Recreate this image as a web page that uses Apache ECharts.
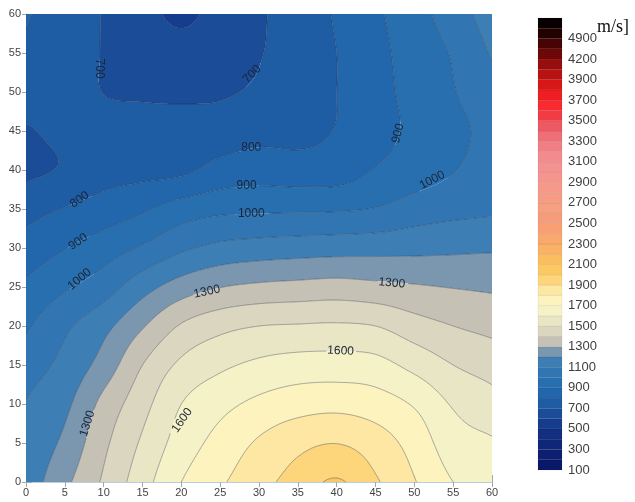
<!DOCTYPE html>
<html>
<head>
<meta charset="utf-8">
<script src="https://cdn.jsdelivr.net/npm/echarts@6/dist/echarts.min.js"></script>
<style>
  html, body { margin: 0; padding: 0; background: #ffffff; }
  #chart { width: 635px; height: 502px; }
</style>
</head>
<body>
<div id="chart"></div>
<script>
// Survey grid (m)
const xPositions = [0, 5, 10, 15, 20, 25, 30, 35, 40, 45, 50, 55, 60];
const yPositions = [0, 5, 10, 15, 20, 25, 30, 35, 40, 45, 50, 55, 60];

// Shear-wave velocity [m/s]; one row per y position (y = 0 first), one column per x position
const velocity = [
  [1140, 1276, 1414, 1559, 1700, 1786, 1866, 1942, 2012, 1913, 1806, 1700, 1640],
  [1125, 1222, 1378, 1515, 1645, 1735, 1813, 1872, 1898, 1849, 1761, 1645, 1610],
  [1105, 1177, 1330, 1465, 1600, 1670, 1723, 1758, 1770, 1747, 1690, 1590, 1538],
  [1052, 1129, 1240, 1400, 1520, 1580, 1620, 1641, 1644, 1634, 1570, 1500, 1459],
  [ 986, 1081, 1170, 1290, 1410, 1470, 1500, 1508, 1513, 1500, 1442, 1400, 1372],
  [ 918,  987, 1052, 1160, 1246, 1297, 1320, 1331, 1340, 1326, 1310, 1296, 1285],
  [ 840,  896,  951, 1012, 1082, 1125, 1143, 1153, 1160, 1165, 1172, 1180, 1188],
  [ 765,  805,  843,  886,  945,  976,  983,  986,  989, 1005, 1045, 1070, 1085],
  [ 680,  710,  760,  770,  780,  833,  852,  843,  850,  905,  949,  995, 1050],
  [ 690,  725,  740,  735,  739,  747,  770,  775,  805,  864,  921,  975, 1030],
  [ 760,  750,  698,  690,  685,  690,  715,  760,  800,  867,  931,  995, 1060],
  [ 790,  765,  695,  670,  660,  670,  695,  747,  800,  870,  943, 1010, 1110],
  [ 805,  770,  695,  660,  560,  665,  690,  745,  810,  883,  961, 1052, 1150]
];

// Contour line levels
const lineLevels = [600, 700, 800, 900, 1000, 1100, 1200, 1300, 1400, 1500, 1600, 1700, 1800, 1900, 2000];

// Colour scale: band boundaries and one colour per band
const scaleLevels = [
  100, 200, 300, 400, 500, 600, 700, 800, 900, 1000,
  1100, 1200, 1300, 1400, 1500, 1600, 1700, 1800, 1900, 2000,
  2100, 2200, 2300, 2400, 2500, 2600, 2700, 2800, 2900, 3000,
  3100, 3200, 3300, 3400, 3500, 3600, 3700, 3800, 3900, 4000,
  4200, 4500, 4900, 5200, 5500
];
const scaleColors = [
  '#0a1869', '#0d1f71', '#102679', '#132f81', '#163d8d', '#1a4c97', '#1e5ca4', '#2266ab',
  '#286faf', '#3176b3', '#3d7fb5', '#7b97af', '#c5c1b4', '#dad6c0', '#e9e6c5', '#f6f2c8',
  '#fcf3bf', '#fde7a2', '#fdd67b', '#fcc862', '#fbbd5e', '#fab266', '#f9a86e', '#f8a074',
  '#f79c7a', '#f7a080', '#f69c86', '#f6998a', '#f5968e', '#f49292', '#f38a8e', '#f17e84',
  '#f06e76', '#ee5a62', '#f23c44', '#f92a30', '#ee1e22', '#d81818', '#b81212', '#980d0d',
  '#6e0808', '#480404', '#220101', '#080000'
];
const scaleTicks = [100, 300, 500, 700, 900, 1100, 1300, 1500, 1700, 1900, 2100, 2300, 2500,
  2700, 2900, 3100, 3300, 3500, 3700, 3900, 4200, 4900];

// In-line contour labels: x, y, level, angle (degrees, counter-clockwise)
const lineLabels = [
  [9.5, 53.0, 700, -90],
  [29.1, 52.3, 700, 45],
  [29.0, 42.8, 800, 0],
  [47.9, 44.7, 900, 75],
  [6.9, 36.2, 800, 35],
  [6.7, 30.8, 900, 35],
  [6.9, 26.0, 1000, 40],
  [28.4, 38.0, 900, 0],
  [29.0, 34.4, 1000, 0],
  [52.3, 38.7, 1000, 28],
  [23.3, 24.4, 1300, 12],
  [47.1, 25.5, 1300, -5],
  [40.5, 16.8, 1600, -3],
  [7.9, 7.5, 1300, 72],
  [20.1, 7.9, 1600, 55]
];

const FONT = '"Liberation Sans", Arial, sans-serif';
const LABEL_FONT_SIZE = 12;

// ---- contouring of the gridded field (bicubic surface split into triangles) ----
const SUB = 8;
const nx = xPositions.length, ny = yPositions.length;

// grid value with linear extension one node beyond the edges
function node(i, j) {
  if (i < 0) return 2 * node(0, j) - node(1, j);
  if (i > nx - 1) return 2 * node(nx - 1, j) - node(nx - 2, j);
  if (j < 0) return 2 * node(i, 0) - node(i, 1);
  if (j > ny - 1) return 2 * node(i, ny - 1) - node(i, ny - 2);
  return velocity[j][i];
}
function cubic(p0, p1, p2, p3, t) {
  return p1 + 0.5 * t * (p2 - p0 + t * (2 * p0 - 5 * p1 + 4 * p2 - p3 + t * (3 * (p1 - p2) + p3 - p0)));
}
function surface(i, j, a, b) {
  const rows = [];
  for (let m = -1; m <= 2; m++) {
    rows.push(cubic(node(i - 1, j + m), node(i, j + m), node(i + 1, j + m), node(i + 2, j + m), a));
  }
  return cubic(rows[0], rows[1], rows[2], rows[3], b);
}

function buildTriangles() {
  const tris = [];
  for (let j = 0; j < ny - 1; j++) {
    for (let i = 0; i < nx - 1; i++) {
      const x0 = xPositions[i], x1 = xPositions[i + 1];
      const y0 = yPositions[j], y1 = yPositions[j + 1];
      const pts = [];
      for (let q = 0; q <= SUB; q++) {
        const row = [];
        for (let p = 0; p <= SUB; p++) {
          const a = p / SUB, b = q / SUB;
          row.push([x0 + (x1 - x0) * a, y0 + (y1 - y0) * b, surface(i, j, a, b)]);
        }
        pts.push(row);
      }
      for (let q = 0; q < SUB; q++) {
        for (let p = 0; p < SUB; p++) {
          const A = pts[q][p], B = pts[q][p + 1], C = pts[q + 1][p + 1], D = pts[q + 1][p];
          tris.push([A, B, C], [A, C, D]);
        }
      }
    }
  }
  return tris;
}

function clipPoly(poly, t, keepAbove) {
  const out = [];
  for (let i = 0; i < poly.length; i++) {
    const a = poly[i], b = poly[(i + 1) % poly.length];
    const aIn = keepAbove ? a[2] >= t : a[2] <= t;
    const bIn = keepAbove ? b[2] >= t : b[2] <= t;
    if (aIn) out.push(a);
    if (aIn !== bIn) {
      const f = (t - a[2]) / (b[2] - a[2]);
      out.push([a[0] + f * (b[0] - a[0]), a[1] + f * (b[1] - a[1]), t]);
    }
  }
  return out;
}

function bandOf(v) {
  let k = 0;
  while (k < scaleLevels.length - 2 && v >= scaleLevels[k + 1]) k++;
  return k;
}

const triangles = buildTriangles();
const bandPolys = scaleColors.map(() => []);
const levelSegments = lineLevels.map(() => []);

triangles.forEach(tri => {
  const vs = tri.map(p => p[2]);
  const lo = bandOf(Math.min(...vs)), hi = bandOf(Math.max(...vs));
  for (let k = lo; k <= hi; k++) {
    let poly = tri;
    if (k > lo) poly = clipPoly(poly, scaleLevels[k], true);
    if (k < hi && poly.length) poly = clipPoly(poly, scaleLevels[k + 1], false);
    if (poly.length >= 3) bandPolys[k].push(poly);
  }
  lineLevels.forEach((L, li) => {
    const pts = [];
    for (let e = 0; e < 3; e++) {
      const a = tri[e], b = tri[(e + 1) % 3];
      if ((a[2] < L) !== (b[2] < L)) {
        const f = (L - a[2]) / (b[2] - a[2]);
        pts.push([a[0] + f * (b[0] - a[0]), a[1] + f * (b[1] - a[1])]);
      }
    }
    if (pts.length === 2) levelSegments[li].push(pts);
  });
});

const fillData = [];
bandPolys.forEach((polys, k) => { if (polys.length) fillData.push([0, 0, k]); });
const lineData = lineLevels.map((L, li) => [0, 0, li]);

const fmt = c => c[0].toFixed(2) + ' ' + c[1].toFixed(2);

// true when a pixel point lies under one of the in-line labels of a level
function underLabel(level, m, api) {
  return lineLabels.some(lab => {
    if (lab[2] !== level) return false;
    const c = api.coord([lab[0], lab[1]]);
    const th = lab[3] * Math.PI / 180;
    const dx = m[0] - c[0], dy = m[1] - c[1];
    const u = dx * Math.cos(th) - dy * Math.sin(th);
    const v = dx * Math.sin(th) + dy * Math.cos(th);
    const halfW = String(level).length * LABEL_FONT_SIZE * 0.28 + 2;
    return Math.abs(u) < halfW && Math.abs(v) < LABEL_FONT_SIZE * 0.6;
  });
}

const chart = echarts.init(document.getElementById('chart'), null, { renderer: 'canvas' });

const axisLineStyle = { color: '#b9cde0', width: 1 };
const tickStyle = { color: '#a0a8b0', width: 1 };

chart.setOption({
  animation: false,
  backgroundColor: '#ffffff',
  grid: [
    { left: 26, top: 14, width: 466, height: 468 },
    { left: 538, top: 18, width: 24, height: 452 }
  ],
  xAxis: [
    {
      type: 'value', gridIndex: 0, min: 0, max: 60, interval: 5, position: 'bottom',
      axisLine: { show: true, lineStyle: axisLineStyle },
      axisTick: { show: true, length: 5, lineStyle: tickStyle },
      axisLabel: { color: '#444', fontSize: 11, fontFamily: FONT, margin: 5 },
      splitLine: { show: false }
    },
    {
      type: 'value', gridIndex: 0, min: 0, max: 60, interval: 5, position: 'top',
      axisLine: { show: true, lineStyle: axisLineStyle },
      axisTick: { show: true, length: 7, lineStyle: tickStyle },
      axisLabel: { show: false },
      splitLine: { show: false }
    },
    { type: 'value', gridIndex: 1, min: 0, max: 1, show: false }
  ],
  yAxis: [
    {
      type: 'value', gridIndex: 0, min: 0, max: 60, interval: 5, position: 'left',
      axisLine: { show: true, lineStyle: axisLineStyle },
      axisTick: { show: true, length: 4, lineStyle: tickStyle },
      axisLabel: { color: '#444', fontSize: 11, fontFamily: FONT, margin: 5 },
      splitLine: { show: false }
    },
    {
      type: 'value', gridIndex: 0, min: 0, max: 60, interval: 5, position: 'right',
      axisLine: { show: true, lineStyle: axisLineStyle },
      axisTick: { show: true, length: 6, lineStyle: tickStyle },
      axisLabel: { show: false },
      splitLine: { show: false }
    },
    {
      type: 'category', gridIndex: 1, position: 'right', boundaryGap: false,
      data: scaleLevels.map(String),
      axisLine: { show: false },
      axisTick: { show: false },
      axisLabel: {
        color: '#404040', fontSize: 13, fontFamily: FONT, margin: 6,
        interval: (idx, val) => scaleTicks.includes(Number(val))
      },
      splitLine: { show: false }
    }
  ],
  graphic: [
    {
      type: 'text', left: 597, top: 18,
      style: { text: 'm/s]', font: '18px "Liberation Serif", "Times New Roman", serif', fill: '#111' }
    }
  ],
  series: [
    {
      // filled contour bands
      type: 'custom', xAxisIndex: 0, yAxisIndex: 0, silent: true,
      encode: { x: 0, y: 1 },
      data: fillData,
      renderItem: (params, api) => {
        const k = api.value(2);
        let d = '';
        bandPolys[k].forEach(poly => {
          poly.forEach((p, idx) => { d += (idx ? 'L' : 'M') + fmt(api.coord([p[0], p[1]])); });
          d += 'Z';
        });
        return { type: 'path', shape: { pathData: d }, style: { fill: scaleColors[k] } };
      }
    },
    {
      // contour lines, broken where a label sits on them
      type: 'custom', xAxisIndex: 0, yAxisIndex: 0, silent: true,
      encode: { x: 0, y: 1 },
      data: lineData,
      renderItem: (params, api) => {
        const li = api.value(2);
        const level = lineLevels[li];
        let d = '';
        levelSegments[li].forEach(seg => {
          const a = api.coord(seg[0]), b = api.coord(seg[1]);
          const mid = [(a[0] + b[0]) / 2, (a[1] + b[1]) / 2];
          if (underLabel(level, mid, api)) return;
          d += 'M' + fmt(a) + 'L' + fmt(b);
        });
        return {
          type: 'path', shape: { pathData: d },
          style: { fill: null, stroke: 'rgba(25,35,55,0.45)', lineWidth: 0.8 }
        };
      }
    },
    {
      // contour labels
      type: 'custom', xAxisIndex: 0, yAxisIndex: 0, silent: true,
      encode: { x: 0, y: 1 },
      data: lineLabels,
      renderItem: (params, api) => {
        const c = api.coord([api.value(0), api.value(1)]);
        return {
          type: 'text', x: c[0], y: c[1], rotation: api.value(3) * Math.PI / 180,
          style: {
            text: String(api.value(2)), fill: '#1b2636', font: LABEL_FONT_SIZE + 'px ' + FONT,
            align: 'center', verticalAlign: 'middle'
          }
        };
      }
    },
    {
      // colour scale bar
      type: 'custom', xAxisIndex: 2, yAxisIndex: 2, silent: true,
      encode: { x: 0, y: 1 },
      data: scaleColors.map((c, k) => [0, k, k]),
      renderItem: (params, api) => {
        const k = api.value(2);
        const p0 = api.coord([0, k]);
        const p1 = api.coord([1, k + 1]);
        return {
          type: 'rect',
          shape: { x: p0[0], y: p1[1], width: p1[0] - p0[0], height: p0[1] - p1[1] },
          style: { fill: scaleColors[k], stroke: 'rgba(0,0,0,0.12)', lineWidth: 0.5 }
        };
      }
    }
  ]
});
</script>
</body>
</html>
